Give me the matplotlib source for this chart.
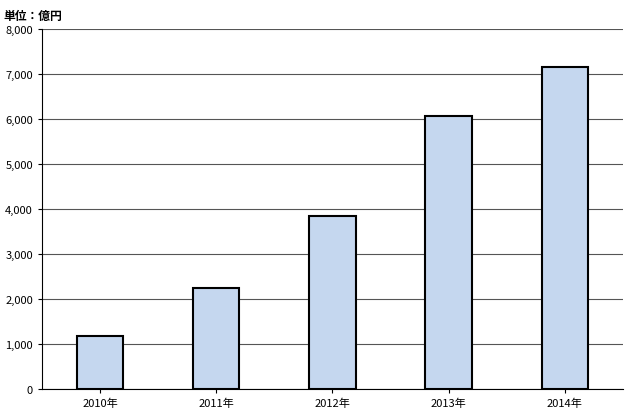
import matplotlib
matplotlib.use('Agg')
import matplotlib.pyplot as plt
from matplotlib.ticker import FuncFormatter

plt.rcParams['font.family'] = ['Noto Sans CJK JP', 'DejaVu Sans']

categories = ['2010年', '2011年', '2012年', '2013年', '2014年']
values = [1180, 2250, 3850, 6070, 7150]
yticks = [0, 1000, 2000, 3000, 4000, 5000, 6000, 7000, 8000]

fig = plt.figure(figsize=(6.35, 4.14), dpi=100)
ax = fig.add_axes([0.066, 0.058, 0.915, 0.87])
ax.bar(range(len(categories)), values, width=0.4, color='#c5d7ef', edgecolor='black', linewidth=1.5, zorder=3)
ax.set_xlim(-0.5, len(categories) - 0.5)
ax.set_ylim(0, 8000)
ax.set_yticks(yticks)
ax.yaxis.set_major_formatter(FuncFormatter(lambda v, p: f'{int(v):,}'))
ax.set_xticks(range(len(categories)))
ax.set_xticklabels(categories)
ax.tick_params(labelsize=8, length=3)
ax.grid(axis='y', color='#555555', linewidth=0.8, zorder=0)
for s in ['top', 'right']:
    ax.spines[s].set_visible(False)
fig.text(0.005, 0.975, '単位：億円', fontsize=8.5, fontweight='bold', va='top')
fig.savefig('out.png')
